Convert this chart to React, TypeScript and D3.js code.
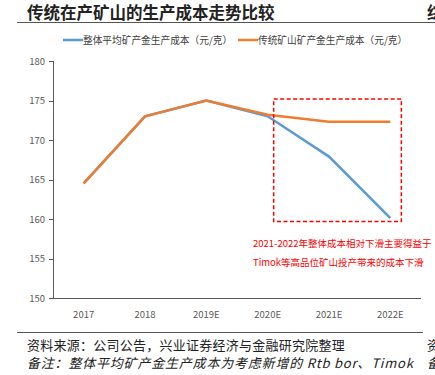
import React from "react";
import * as d3 from "d3";

const categories = ["2017", "2018", "2019E", "2020E", "2021E", "2022E"];
const overallCost = [164.5, 173, 175, 173, 167.9, 160.1];
const traditionalCost = [164.5, 173, 175, 173.2, 172.3, 172.3];
const yTicks = [150, 155, 160, 165, 170, 175, 180];
const seriesNames = ["整体平均矿产金生产成本（元/克）", "传统矿山矿产金生产成本（元/克）"];

export default function App() {
  const W = 435, H = 375;
  const x = d3.scaleBand().domain(categories).range([53, 421]);
  const y = d3.scaleLinear().domain([150, 180]).range([298, 61]);
  const line = d3
    .line<number>()
    .x((_, i) => (x(categories[i]) as number) + x.bandwidth() / 2)
    .y((d) => y(d));
  const font = "'Microsoft YaHei', 'Noto Sans CJK SC', sans-serif";
  const boxX0 = (x("2020E") as number) + x.bandwidth() / 2 + 6;
  const boxX1 = (x("2022E") as number) + x.bandwidth() / 2 + 11;
  return (
    <svg width={W} height={H} style={{ position: "absolute", left: 0, top: 0 }}>
      <rect width={W} height={H} fill="#fff" />
      <text x={27} y={19} fontSize={16.5} fontWeight="bold" fill="#222" fontFamily="'Noto Sans CJK SC', serif">
        传统在产矿山的生产成本走势比较
      </text>
      <text x={427} y={19} fontSize={16.5} fontWeight="bold" fill="#222" fontFamily="'Noto Sans CJK SC', serif">
        综
      </text>
      <line x1={17} x2={435} y1={22.5} y2={22.5} stroke="#555" strokeWidth={1} />
      {/* legend */}
      <line x1={63} x2={83} y1={40} y2={40} stroke="#5B9BD5" strokeWidth={2.5} />
      <text x={83} y={43.5} fontSize={9.7} fill="#404040" fontFamily={font}>{seriesNames[0]}</text>
      <line x1={238} x2={258} y1={40} y2={40} stroke="#ED7D31" strokeWidth={2.5} />
      <text x={258} y={43.5} fontSize={9.7} fill="#404040" fontFamily={font}>{seriesNames[1]}</text>
      {/* y axis */}
      <line x1={53.5} x2={53.5} y1={y(180)} y2={y(150)} stroke="#595959" strokeWidth={1} />
      {yTicks.map((t) => (
        <g key={t}>
          <line x1={49} x2={53.5} y1={Math.round(y(t)) + 0.5} y2={Math.round(y(t)) + 0.5} stroke="#595959" />
          <text x={45} y={y(t) + 3.5} fontSize={9.5} textAnchor="end" fill="#595959" fontFamily={font}>{t}</text>
        </g>
      ))}
      <line x1={53} x2={421} y1={298.5} y2={298.5} stroke="#595959" strokeWidth={1} />
      {categories.map((c) => (
        <text key={c} x={(x(c) as number) + x.bandwidth() / 2} y={318} fontSize={9.5} textAnchor="middle" fill="#595959" fontFamily={font}>{c}</text>
      ))}
      <path d={line(overallCost) || ""} fill="none" stroke="#5B9BD5" strokeWidth={2.5} />
      <path d={line(traditionalCost) || ""} fill="none" stroke="#ED7D31" strokeWidth={2.5} />
      <rect x={boxX0} y={99} width={boxX1 - boxX0} height={122.5} fill="none" stroke="#FF0000" strokeWidth={1.5} strokeDasharray="4,2.5" />
      <text x={253} y={247} fontSize={9.5} fill="#FF0000" fontFamily={font}>2021-2022年整体成本相对下滑主要得益于</text>
      <text x={253} y={266} fontSize={9.5} fill="#FF0000" fontFamily={font}>Timok等高品位矿山投产带来的成本下滑</text>
      {/* footer */}
      <line x1={17} x2={423} y1={332.5} y2={332.5} stroke="#555" strokeWidth={1} />
      <text x={27} y={350} fontSize={13} letterSpacing={0.25} fill="#222" fontFamily="'Noto Sans CJK SC', serif">资料来源：公司公告，兴业证券经济与金融研究院整理</text>
      <text x={427} y={350} fontSize={13} fill="#222" fontFamily="'Noto Sans CJK SC', serif">资</text>
      <text x={27} y={368} fontSize={13} letterSpacing={0.8} fill="#222" fontStyle="italic" fontFamily="'Noto Sans CJK SC', serif">备注：整体平均矿产金生产成本为考虑新增的 Rtb bor、Timok</text>
      <text x={427} y={368} fontSize={13} fill="#222" fontStyle="italic" fontFamily="'Noto Sans CJK SC', serif">备</text>
    </svg>
  );
}
